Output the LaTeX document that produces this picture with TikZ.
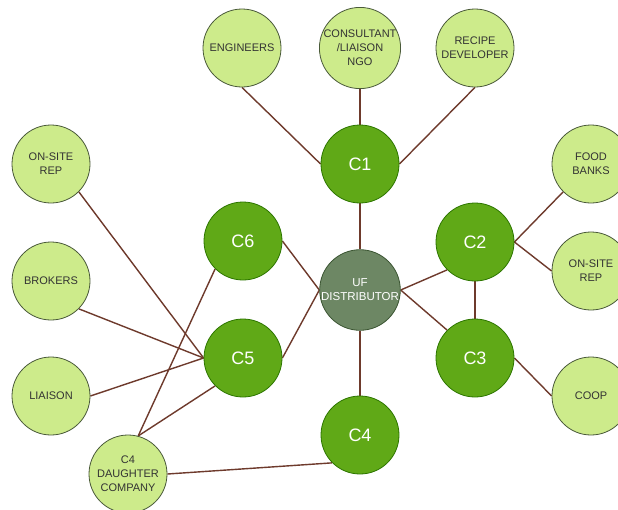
\documentclass[tikz,border=0pt]{standalone}
\usepackage{fontspec}
\setmainfont{Liberation Sans}
\usetikzlibrary{backgrounds}
\definecolor{lightfill}{HTML}{CDEB8B}
\definecolor{lightline}{HTML}{4A5A3A}
\definecolor{darkfill}{HTML}{60A917}
\definecolor{darkline}{HTML}{2D7600}
\definecolor{uffill}{HTML}{6D8764}
\definecolor{ufline}{HTML}{3A5431}
\definecolor{edgecol}{HTML}{6E3A2C}
\definecolor{txtgray}{HTML}{333333}
\tikzset{
  outer/.style={circle, minimum size=78pt, inner sep=0pt, fill=lightfill, draw=lightline, line width=0.8pt,
    text=txtgray, font=\fontsize{11}{14}\selectfont, align=center},
  hub/.style={circle, minimum size=78pt, inner sep=0pt, fill=darkfill, draw=darkline, line width=0.8pt,
    text=white, font=\fontsize{18}{20}\selectfont},
  center/.style={circle, minimum size=78pt, inner sep=0pt, fill=uffill, draw=ufline, line width=0.8pt,
    text=white, font=\fontsize{11.5}{14}\selectfont, align=center},
  link/.style={draw=edgecol, line width=1.4pt}
}
\begin{document}
\begin{tikzpicture}[x=1pt,y=-1pt]
\useasboundingbox (0,0) rectangle (618,509);
\node[outer] (eng) at (242,48) {ENGINEERS};
\node[outer] (con) at (360,48) {CONSULTANT\\/LIAISON\\NGO};
\node[outer] (rec) at (475,48) {RECIPE\\DEVELOPER};
\node[hub] (c1) at (360,164) {C1};
\node[outer] (onl) at (51,164) {ON-SITE\\REP};
\node[outer] (fb) at (591,164) {FOOD\\BANKS};
\node[hub] (c6) at (243,241) {C6};
\node[hub] (c2) at (475,242) {C2};
\node[center] (uf) at (360,290) {UF\\DISTRIBUTOR};
\node[outer] (brk) at (51,281) {BROKERS};
\node[outer] (onr) at (591,271) {ON-SITE\\REP};
\node[hub] (c5) at (243,358) {C5};
\node[hub] (c3) at (475,358) {C3};
\node[outer] (lia) at (51,396) {LIAISON};
\node[outer] (coop) at (591,396) {COOP};
\node[hub] (c4) at (360,435) {C4};
\node[outer] (dau) at (128,474) {C4\\DAUGHTER\\COMPANY};
\begin{pgfonlayer}{background}
\fill[white] (0,0) rectangle (618,509);
\draw[link] (eng.south) -- (c1.west);
\draw[link] (con) -- (c1);
\draw[link] (rec.south) -- (c1.east);
\draw[link] (c1) -- (uf);
\draw[link] (uf.east) -- (c2.south west);
\draw[link] (uf.east) -- (c3.north west);
\draw[link] (c2) -- (c3);
\draw[link] (c2.east) -- (fb.south west);
\draw[link] (c2.east) -- (onr.west);
\draw[link] (c3.east) -- (coop.west);
\draw[link] (uf) -- (c4);
\draw[link] (c4.south west) -- (dau.east);
\draw[link] (c5.east) -- (uf.west);
\draw[link] (c6.east) -- (uf.west);
\draw[link] (onl.south east) -- (c5.west);
\draw[link] (brk.south east) -- (c5.west);
\draw[link] (lia.east) -- (c5.west);
\draw[link] (dau.75) -- (c5.south west);
\draw[link] (dau.75) -- (c6.south west);
\end{pgfonlayer}
\end{tikzpicture}
\end{document}
